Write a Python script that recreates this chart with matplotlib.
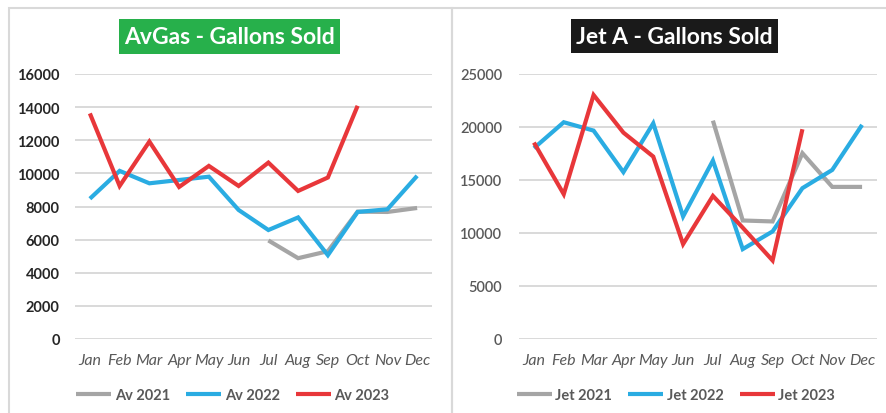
import numpy as np
import matplotlib
matplotlib.use("Agg")
import matplotlib.pyplot as plt
from matplotlib.patches import Rectangle

months = ["Jan", "Feb", "Mar", "Apr", "May", "Jun", "Jul", "Aug", "Sep", "Oct", "Nov", "Dec"]
nan = np.nan

av_2021 = [nan, nan, nan, nan, nan, nan, 5950, 4880, 5300, 7690, 7670, 7910]
av_2022 = [8470, 10150, 9400, 9600, 9800, 7790, 6580, 7340, 5060, 7670, 7830, 9850]
av_2023 = [13620, 9240, 11920, 9180, 10450, 9240, 10650, 8940, 9750, 14080, nan, nan]

jet_2021 = [nan, nan, nan, nan, nan, nan, 20600, 11180, 11090, 17530, 14350, 14350]
jet_2022 = [18000, 20450, 19660, 15740, 20350, 11560, 16830, 8480, 10150, 14230, 15950, 20200]
jet_2023 = [18530, 13660, 23020, 19470, 17210, 8950, 13500, 10500, 7410, 19790, nan, nan]

av_labels = ["Av 2021", "Av 2022", "Av 2023"]
jet_labels = ["Jet 2021", "Jet 2022", "Jet 2023"]
av_ticks = list(range(0, 16001, 2000))
jet_ticks = list(range(0, 25001, 5000))

colors = ["#a5a5a5", "#2aace2", "#e8373a"]
FONT = ["Lato", "DejaVu Sans"]
plt.rcParams["font.family"] = FONT

W, H = 887, 414
fig = plt.figure(figsize=(W / 100, H / 100), dpi=100)
fig.patch.set_facecolor("white")

def fx(px):
    return px / W

def fy(py):
    return 1 - py / H

# panel borders
for (x0, x1) in [(9, 452), (452, 900)]:
    fig.add_artist(Rectangle((fx(x0), fy(420)), fx(x1 - x0), (420 - 9) / H,
                             transform=fig.transFigure, fill=False,
                             edgecolor="#d9d9d9", linewidth=1.5))

def make(ax_left, ax_right, series, labels, ticks, ymax, title, title_bg,
         title_box, legend_cx, ylab_color, ylab_weight, ypad):
    ax = fig.add_axes([fx(ax_left), fy(340), fx(ax_right - ax_left), (340 - 75) / H])
    x = np.arange(len(months))
    for s, lab, c in zip(series, labels, colors):
        ax.plot(x, s, color=c, linewidth=3.0, label=lab, solid_capstyle="butt",
                solid_joinstyle="miter")
    ax.set_xlim(-0.5, 11.5)
    ax.set_ylim(0, ymax)
    ax.set_yticks(ticks)
    ax.set_yticklabels([str(t) for t in ticks], color=ylab_color,
                       fontsize=10.5, fontweight=ylab_weight)
    ax.set_xticks(x)
    ax.set_xticklabels(months, fontsize=11.5, style="italic", color="#595959")
    ax.tick_params(axis="both", length=0)
    ax.tick_params(axis="y", pad=ypad)
    ax.tick_params(axis="x", pad=10)
    ax.grid(axis="y", color="#d9d9d9", linewidth=1.4)
    ax.set_axisbelow(True)
    for sp in ax.spines.values():
        sp.set_visible(False)
    # title box
    bx0, bx1, by0, by1 = title_box
    fig.add_artist(Rectangle((fx(bx0), fy(by1)), fx(bx1 - bx0), (by1 - by0) / H,
                             transform=fig.transFigure, facecolor=title_bg,
                             edgecolor="none"))
    fig.text(fx((bx0 + bx1) / 2), fy((by0 + by1) / 2), title, ha="center",
             va="center", color="white", fontsize=16.5, fontweight="bold")
    leg = fig.legend(*ax.get_legend_handles_labels(), loc="center",
                     bbox_to_anchor=(fx(legend_cx), fy(396)), ncol=3,
                     frameon=False, handlelength=2.4, handletextpad=0.25,
                     columnspacing=1.1, prop={"family": FONT, "weight": "bold",
                                              "size": 10.5})
    for t in leg.get_texts():
        t.set_color("#595959")
    return ax

make(75, 432, [av_2021, av_2022, av_2023], av_labels, av_ticks, 16000,
     "AvGas - Gallons Sold", "#27b04b", (119, 340, 20, 55), 233, "#262626", "bold", 11)
make(519, 877, [jet_2021, jet_2022, jet_2023], jet_labels, jet_ticks, 25000,
     "Jet A - Gallons Sold", "#1a1a1a", (571, 778, 20, 54), 676, "#595959", "semibold", 12)

fig.savefig("out.png", dpi=100, facecolor="white")
